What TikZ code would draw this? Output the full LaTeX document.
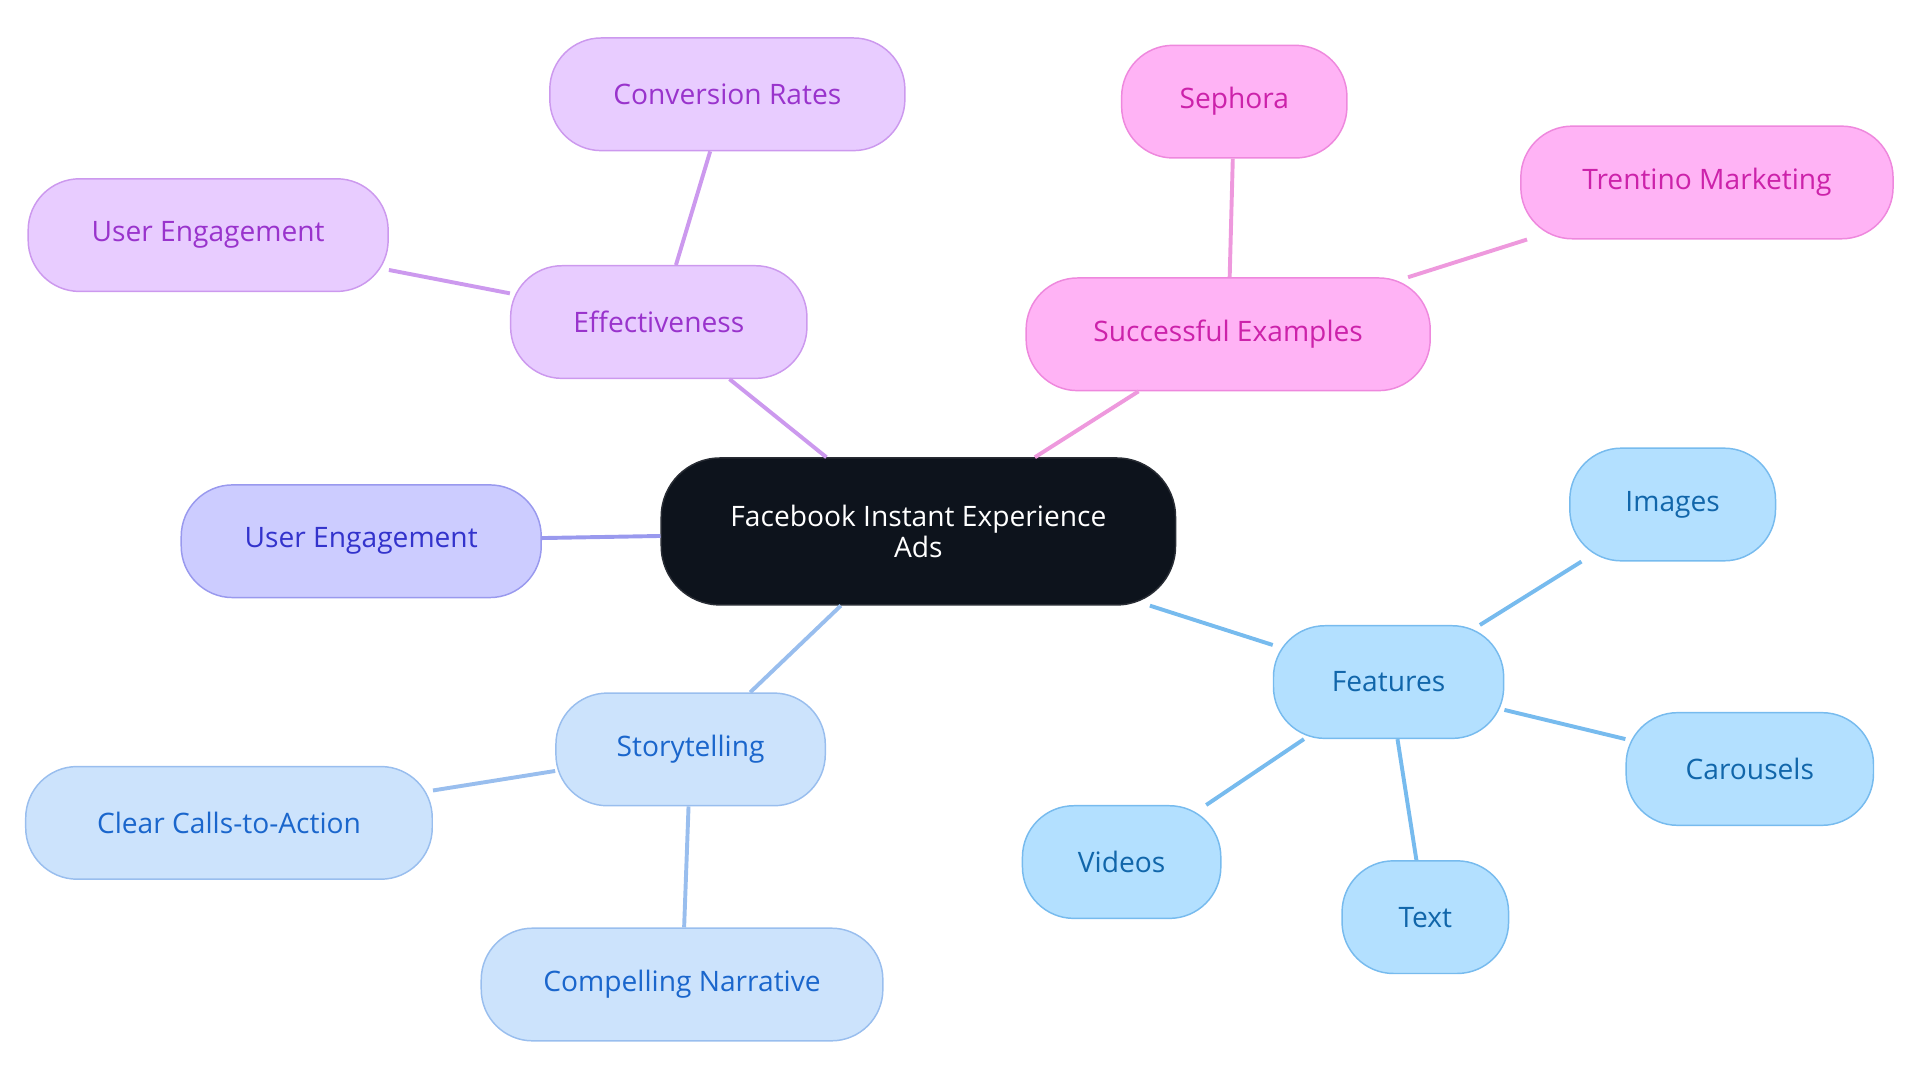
\documentclass[tikz,border=0pt]{standalone}
\usepackage{fontspec}
\setmainfont{Open Sans}
\begin{document}
\begin{tikzpicture}[x=0.5pt,y=-0.5pt,
 base/.style={draw,rounded corners=21pt,minimum height=46pt,align=center,font=\fontsize{11.5}{13}\selectfont,line width=0.6pt},
 pu/.style={base,fill=purple!0!white,fill={rgb,255:red,232;green,204;blue,255},draw={rgb,255:red,204;green,153;blue,238},text={rgb,255:red,153;green,51;blue,204}},
 pk/.style={base,fill={rgb,255:red,255;green,179;blue,245},draw={rgb,255:red,238;green,136;blue,221},text={rgb,255:red,204;green,34;blue,170}},
 bl/.style={base,fill={rgb,255:red,179;green,224;blue,255},draw={rgb,255:red,119;green,187;blue,238},text={rgb,255:red,17;green,102;blue,170}},
 lb/.style={base,fill={rgb,255:red,204;green,227;blue,252},draw={rgb,255:red,153;green,190;blue,238},text={rgb,255:red,26;green,102;blue,204}},
 vi/.style={base,fill={rgb,255:red,204;green,204;blue,255},draw={rgb,255:red,153;green,153;blue,238},text={rgb,255:red,51;green,51;blue,204}},
 lpu/.style={line width=1.6pt,draw={rgb,255:red,204;green,153;blue,238}},
 lpk/.style={line width=1.6pt,draw={rgb,255:red,238;green,153;blue,221}},
 lbl/.style={line width=1.6pt,draw={rgb,255:red,119;green,187;blue,238}},
 llb/.style={line width=1.6pt,draw={rgb,255:red,153;green,190;blue,238}},
 lvi/.style={line width=1.6pt,draw={rgb,255:red,153;green,153;blue,238}}]
\useasboundingbox (0,0) rectangle (1568,885);
\node[base,fill={rgb,255:red,13;green,19;blue,28},draw={rgb,255:red,40;green,44;blue,52},text=white,minimum width=210pt,minimum height=60pt,rounded corners=24pt] (c) at (750,434) {Facebook Instant Experience\\Ads};
\node[vi,minimum width=147pt] (ue) at (295,442) {User Engagement};
\node[pu,minimum width=121pt] (ef) at (538,263) {Effectiveness};
\node[pu,minimum width=145pt] (cr) at (594,77) {Conversion Rates};
\node[pu,minimum width=147pt] (ue2) at (170,192) {User Engagement};
\node[pk,minimum width=165pt] (se) at (1003,273) {Successful Examples};
\node[pk,minimum width=92pt] (sp) at (1008,83) {Sephora};
\node[pk,minimum width=152pt] (tm) at (1394,149) {Trentino Marketing};
\node[bl,minimum width=94pt] (fe) at (1134,557) {Features};
\node[bl,minimum width=84pt] (im) at (1366,412) {Images};
\node[bl,minimum width=101pt] (ca) at (1429,628) {Carousels};
\node[bl,minimum width=68pt] (tx) at (1164,749) {Text};
\node[bl,minimum width=81pt] (vd) at (916,704) {Videos};
\node[lb,minimum width=110pt] (st) at (564,612) {Storytelling};
\node[lb,minimum width=166pt] (cc) at (187,672) {Clear Calls-to-Action};
\node[lb,minimum width=164pt] (cn) at (557,804) {Compelling Narrative};
\begin{scope}[on background layer/.style={}]
\end{scope}
\draw[lvi] (c) -- (ue);
\draw[lpu] (c) -- (ef);
\draw[lpu] (ef) -- (cr);
\draw[lpu] (ef) -- (ue2);
\draw[lpk] (c) -- (se);
\draw[lpk] (se) -- (sp);
\draw[lpk] (se) -- (tm);
\draw[lbl] (c) -- (fe);
\draw[lbl] (fe) -- (im);
\draw[lbl] (fe) -- (ca);
\draw[lbl] (fe) -- (tx);
\draw[lbl] (fe) -- (vd);
\draw[llb] (c) -- (st);
\draw[llb] (st) -- (cc);
\draw[llb] (st) -- (cn);
\end{tikzpicture}
\end{document}
